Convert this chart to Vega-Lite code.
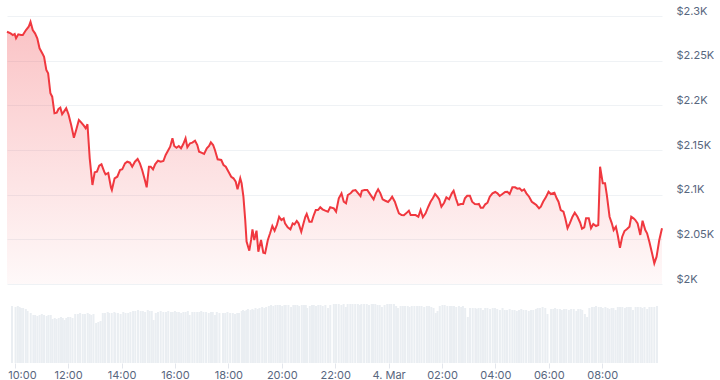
{
  "$schema": "https://vega.github.io/schema/vega-lite/v6.json",
  "background": "white",
  "padding": {"left": 3, "top": 5, "right": 0, "bottom": 0},
  "spacing": 20,
  "config": {
    "view": {"stroke": null},
    "font": "Inter",
    "axis": {"labelFont": "Inter", "labelFontSize": 11, "labelColor": "#58667e"}
  },
  "data": {"values": [
    {"t":"2025-03-03T09:54","p":2282.4,"v":57},{"t":"2025-03-03T10:02","p":2280.6,"v":56},{"t":"2025-03-03T10:07","p":2278.7,"v":57},{"t":"2025-03-03T10:11","p":2279.9,"v":56},{"t":"2025-03-03T10:14","p":2275.0,"v":55},{"t":"2025-03-03T10:19","p":2279.5,"v":55},{"t":"2025-03-03T10:25","p":2278.7,"v":54},{"t":"2025-03-03T10:29","p":2278.7,"v":52},{"t":"2025-03-03T10:36","p":2284.3,"v":50},{"t":"2025-03-03T10:42","p":2288.0,"v":48},
    {"t":"2025-03-03T10:46","p":2293.6,"v":48},{"t":"2025-03-03T10:51","p":2284.3,"v":47},{"t":"2025-03-03T10:56","p":2280.6,"v":48},{"t":"2025-03-03T11:01","p":2275.0,"v":49},{"t":"2025-03-03T11:06","p":2263.8,"v":48},{"t":"2025-03-03T11:12","p":2258.2,"v":47},{"t":"2025-03-03T11:16","p":2254.4,"v":48},{"t":"2025-03-03T11:21","p":2239.6,"v":48},{"t":"2025-03-03T11:25","p":2235.9,"v":44},{"t":"2025-03-03T11:30","p":2213.5,"v":45},
    {"t":"2025-03-03T11:34","p":2209.7,"v":44},{"t":"2025-03-03T11:39","p":2191.1,"v":45},{"t":"2025-03-03T11:44","p":2191.8,"v":46},{"t":"2025-03-03T11:48","p":2195.9,"v":45},{"t":"2025-03-03T11:52","p":2197.4,"v":43},{"t":"2025-03-03T11:56","p":2190.0,"v":45},{"t":"2025-03-03T12:00","p":2192.9,"v":46},{"t":"2025-03-03T12:05","p":2196.7,"v":46},{"t":"2025-03-03T12:10","p":2190.0,"v":45},{"t":"2025-03-03T12:16","p":2178.0,"v":49},
    {"t":"2025-03-03T12:22","p":2163.8,"v":49},{"t":"2025-03-03T12:27","p":2172.4,"v":50},{"t":"2025-03-03T12:33","p":2183.6,"v":49},{"t":"2025-03-03T12:38","p":2181.0,"v":49},{"t":"2025-03-03T12:44","p":2177.2,"v":50},{"t":"2025-03-03T12:48","p":2174.3,"v":49},{"t":"2025-03-03T12:52","p":2178.8,"v":48},{"t":"2025-03-03T12:57","p":2140.7,"v":49},{"t":"2025-03-03T13:03","p":2110.8,"v":40},{"t":"2025-03-03T13:08","p":2125.0,"v":41},
    {"t":"2025-03-03T13:13","p":2125.7,"v":42},{"t":"2025-03-03T13:18","p":2132.4,"v":50},{"t":"2025-03-03T13:23","p":2134.0,"v":50},{"t":"2025-03-03T13:29","p":2125.7,"v":51},{"t":"2025-03-03T13:32","p":2122.8,"v":50},{"t":"2025-03-03T13:38","p":2124.3,"v":50},{"t":"2025-03-03T13:44","p":2108.0,"v":51},{"t":"2025-03-03T13:46","p":2105.2,"v":50},{"t":"2025-03-03T13:52","p":2118.3,"v":50},{"t":"2025-03-03T13:58","p":2120.1,"v":49},
    {"t":"2025-03-03T14:04","p":2127.6,"v":51},{"t":"2025-03-03T14:09","p":2128.4,"v":50},{"t":"2025-03-03T14:15","p":2135.1,"v":50},{"t":"2025-03-03T14:20","p":2136.9,"v":51},{"t":"2025-03-03T14:26","p":2135.8,"v":52},{"t":"2025-03-03T14:31","p":2131.3,"v":52},{"t":"2025-03-03T14:37","p":2136.9,"v":53},{"t":"2025-03-03T14:43","p":2139.9,"v":52},{"t":"2025-03-03T14:48","p":2135.1,"v":52},{"t":"2025-03-03T14:53","p":2127.6,"v":51},
    {"t":"2025-03-03T14:59","p":2116.4,"v":53},{"t":"2025-03-03T15:03","p":2108.2,"v":52},{"t":"2025-03-03T15:08","p":2131.3,"v":52},{"t":"2025-03-03T15:12","p":2131.3,"v":43},{"t":"2025-03-03T15:17","p":2128.4,"v":50},{"t":"2025-03-03T15:22","p":2134.3,"v":51},{"t":"2025-03-03T15:28","p":2138.0,"v":52},{"t":"2025-03-03T15:34","p":2136.9,"v":51},{"t":"2025-03-03T15:40","p":2137.7,"v":51},{"t":"2025-03-03T15:45","p":2144.4,"v":52},
    {"t":"2025-03-03T15:51","p":2150.0,"v":51},{"t":"2025-03-03T15:55","p":2153.7,"v":51},{"t":"2025-03-03T16:00","p":2163.1,"v":52},{"t":"2025-03-03T16:04","p":2154.5,"v":51},{"t":"2025-03-03T16:09","p":2152.6,"v":51},{"t":"2025-03-03T16:14","p":2154.5,"v":50},{"t":"2025-03-03T16:19","p":2151.9,"v":51},{"t":"2025-03-03T16:24","p":2156.7,"v":51},{"t":"2025-03-03T16:29","p":2163.1,"v":52},{"t":"2025-03-03T16:33","p":2153.0,"v":48},
    {"t":"2025-03-03T16:39","p":2157.5,"v":51},{"t":"2025-03-03T16:44","p":2158.2,"v":51},{"t":"2025-03-03T16:50","p":2160.4,"v":51},{"t":"2025-03-03T16:55","p":2155.6,"v":51},{"t":"2025-03-03T16:59","p":2148.1,"v":52},{"t":"2025-03-03T17:04","p":2147.0,"v":51},{"t":"2025-03-03T17:10","p":2145.5,"v":51},{"t":"2025-03-03T17:16","p":2151.9,"v":50},{"t":"2025-03-03T17:21","p":2154.5,"v":51},{"t":"2025-03-03T17:25","p":2158.6,"v":51},
    {"t":"2025-03-03T17:30","p":2155.6,"v":48},{"t":"2025-03-03T17:34","p":2150.0,"v":51},{"t":"2025-03-03T17:40","p":2139.6,"v":50},{"t":"2025-03-03T17:48","p":2138.8,"v":50},{"t":"2025-03-03T17:53","p":2133.2,"v":50},{"t":"2025-03-03T17:58","p":2131.3,"v":51},{"t":"2025-03-03T18:04","p":2125.7,"v":50},{"t":"2025-03-03T18:10","p":2120.1,"v":50},{"t":"2025-03-03T18:15","p":2118.3,"v":49},{"t":"2025-03-03T18:20","p":2114.5,"v":50},
    {"t":"2025-03-03T18:24","p":2106.0,"v":50},{"t":"2025-03-03T18:30","p":2118.3,"v":52},{"t":"2025-03-03T18:33","p":2112.7,"v":53},{"t":"2025-03-03T18:37","p":2097.7,"v":52},{"t":"2025-03-03T18:41","p":2071.6,"v":53},{"t":"2025-03-03T18:44","p":2047.4,"v":54},{"t":"2025-03-03T18:50","p":2037.3,"v":53},{"t":"2025-03-03T18:54","p":2049.3,"v":54},{"t":"2025-03-03T18:57","p":2061.2,"v":53},{"t":"2025-03-03T19:01","p":2049.3,"v":55},
    {"t":"2025-03-03T19:06","p":2059.7,"v":54},{"t":"2025-03-03T19:10","p":2036.2,"v":55},{"t":"2025-03-03T19:16","p":2049.3,"v":56},{"t":"2025-03-03T19:21","p":2035.0,"v":55},{"t":"2025-03-03T19:25","p":2034.4,"v":56},{"t":"2025-03-03T19:31","p":2049.3,"v":57},{"t":"2025-03-03T19:36","p":2056.8,"v":58},{"t":"2025-03-03T19:41","p":2064.9,"v":57},{"t":"2025-03-03T19:46","p":2059.7,"v":58},{"t":"2025-03-03T19:51","p":2066.0,"v":58},
    {"t":"2025-03-03T19:56","p":2075.3,"v":58},{"t":"2025-03-03T20:01","p":2071.6,"v":57},{"t":"2025-03-03T20:06","p":2073.5,"v":58},{"t":"2025-03-03T20:09","p":2067.9,"v":58},{"t":"2025-03-03T20:15","p":2063.5,"v":58},{"t":"2025-03-03T20:21","p":2061.2,"v":56},{"t":"2025-03-03T20:26","p":2067.9,"v":58},{"t":"2025-03-03T20:30","p":2066.8,"v":58},{"t":"2025-03-03T20:35","p":2070.5,"v":58},{"t":"2025-03-03T20:39","p":2067.9,"v":57},
    {"t":"2025-03-03T20:45","p":2058.5,"v":58},{"t":"2025-03-03T20:50","p":2067.9,"v":58},{"t":"2025-03-03T20:54","p":2075.3,"v":58},{"t":"2025-03-03T20:57","p":2078.4,"v":55},{"t":"2025-03-03T21:03","p":2069.7,"v":57},{"t":"2025-03-03T21:08","p":2069.7,"v":58},{"t":"2025-03-03T21:12","p":2076.1,"v":58},{"t":"2025-03-03T21:17","p":2082.8,"v":57},{"t":"2025-03-03T21:22","p":2082.8,"v":58},{"t":"2025-03-03T21:27","p":2085.9,"v":58},
    {"t":"2025-03-03T21:32","p":2083.6,"v":57},{"t":"2025-03-03T21:38","p":2082.1,"v":58},{"t":"2025-03-03T21:44","p":2080.9,"v":55},{"t":"2025-03-03T21:49","p":2085.9,"v":58},{"t":"2025-03-03T21:57","p":2084.7,"v":59},{"t":"2025-03-03T22:02","p":2080.9,"v":59},{"t":"2025-03-03T22:08","p":2095.9,"v":59},{"t":"2025-03-03T22:14","p":2101.5,"v":58},{"t":"2025-03-03T22:19","p":2092.1,"v":59},{"t":"2025-03-03T22:24","p":2090.3,"v":56},
    {"t":"2025-03-03T22:28","p":2099.6,"v":59},{"t":"2025-03-03T22:34","p":2101.5,"v":59},{"t":"2025-03-03T22:39","p":2104.4,"v":59},{"t":"2025-03-03T22:45","p":2105.2,"v":59},{"t":"2025-03-03T22:51","p":2101.5,"v":59},{"t":"2025-03-03T22:56","p":2098.5,"v":58},{"t":"2025-03-03T22:59","p":2104.4,"v":59},{"t":"2025-03-03T23:05","p":2105.2,"v":59},{"t":"2025-03-03T23:11","p":2105.2,"v":59},{"t":"2025-03-03T23:16","p":2101.5,"v":58},
    {"t":"2025-03-03T23:22","p":2097.0,"v":59},{"t":"2025-03-03T23:25","p":2094.8,"v":59},{"t":"2025-03-03T23:30","p":2101.5,"v":59},{"t":"2025-03-03T23:35","p":2106.0,"v":58},{"t":"2025-03-03T23:40","p":2101.5,"v":58},{"t":"2025-03-03T23:45","p":2094.8,"v":56},{"t":"2025-03-03T23:51","p":2093.2,"v":58},{"t":"2025-03-03T23:57","p":2091.8,"v":59},{"t":"2025-03-04T00:02","p":2094.8,"v":59},{"t":"2025-03-04T00:06","p":2097.7,"v":59},
    {"t":"2025-03-04T00:12","p":2092.1,"v":59},{"t":"2025-03-04T00:17","p":2084.7,"v":57},{"t":"2025-03-04T00:21","p":2079.1,"v":55},{"t":"2025-03-04T00:27","p":2077.2,"v":57},{"t":"2025-03-04T00:32","p":2076.9,"v":57},{"t":"2025-03-04T00:37","p":2079.1,"v":57},{"t":"2025-03-04T00:43","p":2082.1,"v":57},{"t":"2025-03-04T00:47","p":2077.2,"v":56},{"t":"2025-03-04T00:52","p":2077.2,"v":57},{"t":"2025-03-04T00:58","p":2077.2,"v":57},
    {"t":"2025-03-04T01:04","p":2075.3,"v":57},{"t":"2025-03-04T01:09","p":2082.8,"v":57},{"t":"2025-03-04T01:14","p":2074.7,"v":57},{"t":"2025-03-04T01:20","p":2079.1,"v":56},{"t":"2025-03-04T01:26","p":2086.5,"v":57},{"t":"2025-03-04T01:31","p":2092.1,"v":57},{"t":"2025-03-04T01:36","p":2095.9,"v":56},{"t":"2025-03-04T01:41","p":2100.7,"v":55},{"t":"2025-03-04T01:46","p":2097.7,"v":50},{"t":"2025-03-04T01:50","p":2094.8,"v":52},
    {"t":"2025-03-04T01:55","p":2086.5,"v":57},{"t":"2025-03-04T02:01","p":2091.0,"v":58},{"t":"2025-03-04T02:06","p":2097.0,"v":58},{"t":"2025-03-04T02:12","p":2094.8,"v":57},{"t":"2025-03-04T02:18","p":2101.5,"v":57},{"t":"2025-03-04T02:22","p":2104.4,"v":57},{"t":"2025-03-04T02:27","p":2095.9,"v":57},{"t":"2025-03-04T02:32","p":2088.4,"v":56},{"t":"2025-03-04T02:38","p":2089.6,"v":57},{"t":"2025-03-04T02:43","p":2089.6,"v":56},
    {"t":"2025-03-04T02:47","p":2095.9,"v":57},{"t":"2025-03-04T02:52","p":2098.8,"v":55},{"t":"2025-03-04T02:58","p":2098.8,"v":46},{"t":"2025-03-04T03:03","p":2092.1,"v":55},{"t":"2025-03-04T03:09","p":2089.6,"v":55},{"t":"2025-03-04T03:15","p":2089.2,"v":55},{"t":"2025-03-04T03:18","p":2089.6,"v":54},{"t":"2025-03-04T03:22","p":2085.4,"v":55},{"t":"2025-03-04T03:27","p":2085.4,"v":55},{"t":"2025-03-04T03:32","p":2089.2,"v":53},
    {"t":"2025-03-04T03:37","p":2091.0,"v":55},{"t":"2025-03-04T03:42","p":2097.7,"v":55},{"t":"2025-03-04T03:48","p":2101.5,"v":54},{"t":"2025-03-04T03:54","p":2103.0,"v":55},{"t":"2025-03-04T03:59","p":2101.5,"v":55},{"t":"2025-03-04T04:04","p":2098.5,"v":54},{"t":"2025-03-04T04:10","p":2100.7,"v":53},{"t":"2025-03-04T04:16","p":2103.0,"v":55},{"t":"2025-03-04T04:21","p":2103.3,"v":53},{"t":"2025-03-04T04:26","p":2100.7,"v":53},
    {"t":"2025-03-04T04:32","p":2108.2,"v":54},{"t":"2025-03-04T04:38","p":2108.2,"v":53},{"t":"2025-03-04T04:43","p":2106.7,"v":53},{"t":"2025-03-04T04:48","p":2107.1,"v":52},{"t":"2025-03-04T04:53","p":2104.4,"v":53},{"t":"2025-03-04T04:58","p":2106.0,"v":54},{"t":"2025-03-04T05:03","p":2101.5,"v":53},{"t":"2025-03-04T05:09","p":2097.7,"v":53},{"t":"2025-03-04T05:15","p":2092.1,"v":52},{"t":"2025-03-04T05:20","p":2090.3,"v":53},
    {"t":"2025-03-04T05:25","p":2088.4,"v":53},{"t":"2025-03-04T05:31","p":2084.7,"v":54},{"t":"2025-03-04T05:35","p":2086.5,"v":55},{"t":"2025-03-04T05:40","p":2092.1,"v":55},{"t":"2025-03-04T05:46","p":2097.0,"v":56},{"t":"2025-03-04T05:52","p":2103.3,"v":55},{"t":"2025-03-04T05:57","p":2100.7,"v":49},{"t":"2025-03-04T06:05","p":2102.2,"v":54},{"t":"2025-03-04T06:10","p":2095.9,"v":54},{"t":"2025-03-04T06:14","p":2092.1,"v":55},
    {"t":"2025-03-04T06:19","p":2082.8,"v":54},{"t":"2025-03-04T06:25","p":2080.9,"v":54},{"t":"2025-03-04T06:29","p":2073.5,"v":53},{"t":"2025-03-04T06:34","p":2062.4,"v":54},{"t":"2025-03-04T06:39","p":2067.9,"v":54},{"t":"2025-03-04T06:45","p":2075.3,"v":53},{"t":"2025-03-04T06:50","p":2079.8,"v":54},{"t":"2025-03-04T06:56","p":2075.3,"v":54},{"t":"2025-03-04T07:02","p":2068.6,"v":52},{"t":"2025-03-04T07:06","p":2061.9,"v":54},
    {"t":"2025-03-04T07:11","p":2063.5,"v":54},{"t":"2025-03-04T07:15","p":2073.5,"v":53},{"t":"2025-03-04T07:21","p":2073.5,"v":49},{"t":"2025-03-04T07:26","p":2062.4,"v":46},{"t":"2025-03-04T07:31","p":2067.2,"v":55},{"t":"2025-03-04T07:37","p":2064.9,"v":56},{"t":"2025-03-04T07:42","p":2066.0,"v":56},{"t":"2025-03-04T07:46","p":2131.3,"v":57},{"t":"2025-03-04T07:52","p":2112.7,"v":56},{"t":"2025-03-04T07:57","p":2112.7,"v":56},
    {"t":"2025-03-04T08:01","p":2099.6,"v":55},{"t":"2025-03-04T08:07","p":2075.3,"v":56},{"t":"2025-03-04T08:12","p":2067.9,"v":55},{"t":"2025-03-04T08:16","p":2060.4,"v":54},{"t":"2025-03-04T08:21","p":2064.1,"v":55},{"t":"2025-03-04T08:25","p":2054.9,"v":55},{"t":"2025-03-04T08:30","p":2040.6,"v":53},{"t":"2025-03-04T08:35","p":2052.9,"v":56},{"t":"2025-03-04T08:40","p":2059.3,"v":56},{"t":"2025-03-04T08:45","p":2061.2,"v":56},
    {"t":"2025-03-04T08:51","p":2064.1,"v":55},{"t":"2025-03-04T08:55","p":2075.3,"v":56},{"t":"2025-03-04T09:00","p":2073.5,"v":56},{"t":"2025-03-04T09:04","p":2071.6,"v":56},{"t":"2025-03-04T09:09","p":2067.9,"v":53},{"t":"2025-03-04T09:15","p":2054.9,"v":56},{"t":"2025-03-04T09:20","p":2070.9,"v":56},{"t":"2025-03-04T09:26","p":2060.4,"v":56},{"t":"2025-03-04T09:30","p":2056.8,"v":55},{"t":"2025-03-04T09:35","p":2047.4,"v":56},
    {"t":"2025-03-04T09:41","p":2034.4,"v":54},{"t":"2025-03-04T09:46","p":2023.2,"v":56},{"t":"2025-03-04T09:51","p":2030.6,"v":56},{"t":"2025-03-04T09:57","p":2049.3,"v":56},{"t":"2025-03-04T10:03","p":2062.4,"v":57}
  ]},
  "vconcat": [
    {
      "width": 655,
      "height": 268,
      "encoding": {
        "x": {"field": "t", "type": "temporal",
              "scale": {"domain": [{"year": 2025, "month": "mar", "date": 3, "hours": 9, "minutes": 54}, {"year": 2025, "month": "mar", "date": 4, "hours": 10, "minutes": 3}]},
              "axis": null},
        "y": {"field": "p", "type": "quantitative",
              "scale": {"domain": [2000, 2300], "nice": false, "zero": false},
              "axis": {"orient": "right", "title": null, "values": [2000, 2050, 2100, 2150, 2200, 2250, 2300],
                       "labelExpr": "'$' + format(datum.value / 1000, '~g') + 'K'",
                       "grid": true, "gridColor": "#eff2f5", "gridWidth": 1, "domain": false, "ticks": false,
                       "labelPadding": 14, "labelBaseline": "alphabetic", "labelOffset": -2}}
      },
      "layer": [
        {
          "mark": {"type": "area", "interpolate": "linear",
                   "color": {"gradient": "linear", "x1": 0, "y1": 0, "x2": 0, "y2": 1,
                             "stops": [{"offset": 0, "color": "rgba(240,56,63,0.30)"}, {"offset": 1, "color": "rgba(240,56,63,0.03)"}]}},
          "encoding": {"y2": {"datum": 2000}}
        },
        {
          "mark": {"type": "line", "color": "#f0383f", "strokeWidth": 2, "interpolate": "linear"}
        }
      ]
    },
    {
      "width": 655,
      "height": 59,
      "mark": {"type": "bar", "color": "#eaeef2", "size": 2},
      "encoding": {
        "x": {"field": "t", "type": "temporal",
              "scale": {"domain": [{"year": 2025, "month": "mar", "date": 3, "hours": 9, "minutes": 54}, {"year": 2025, "month": "mar", "date": 4, "hours": 10, "minutes": 3}]},
              "axis": {"title": null, "grid": false, "domain": false, "tickColor": "#e3e6ec", "tickSize": 5, "labelPadding": 1,
                       "labelFlush": 10, "labelFlushOffset": 7, "labelOverlap": false,
                       "values": [
                         {"year": 2025, "month": "mar", "date": 3, "hours": 10},
                         {"year": 2025, "month": "mar", "date": 3, "hours": 12},
                         {"year": 2025, "month": "mar", "date": 3, "hours": 14},
                         {"year": 2025, "month": "mar", "date": 3, "hours": 16},
                         {"year": 2025, "month": "mar", "date": 3, "hours": 18},
                         {"year": 2025, "month": "mar", "date": 3, "hours": 20},
                         {"year": 2025, "month": "mar", "date": 3, "hours": 22},
                         {"year": 2025, "month": "mar", "date": 4, "hours": 0},
                         {"year": 2025, "month": "mar", "date": 4, "hours": 2},
                         {"year": 2025, "month": "mar", "date": 4, "hours": 4},
                         {"year": 2025, "month": "mar", "date": 4, "hours": 6},
                         {"year": 2025, "month": "mar", "date": 4, "hours": 8}
                       ],
                       "labelExpr": "hours(datum.value) == 0 ? timeFormat(datum.value, '%-d. %b') : timeFormat(datum.value, '%H:%M')"}},
        "y": {"field": "v", "type": "quantitative", "scale": {"domain": [0, 59], "nice": false, "zero": true}, "axis": null}
      }
    }
  ]
}
